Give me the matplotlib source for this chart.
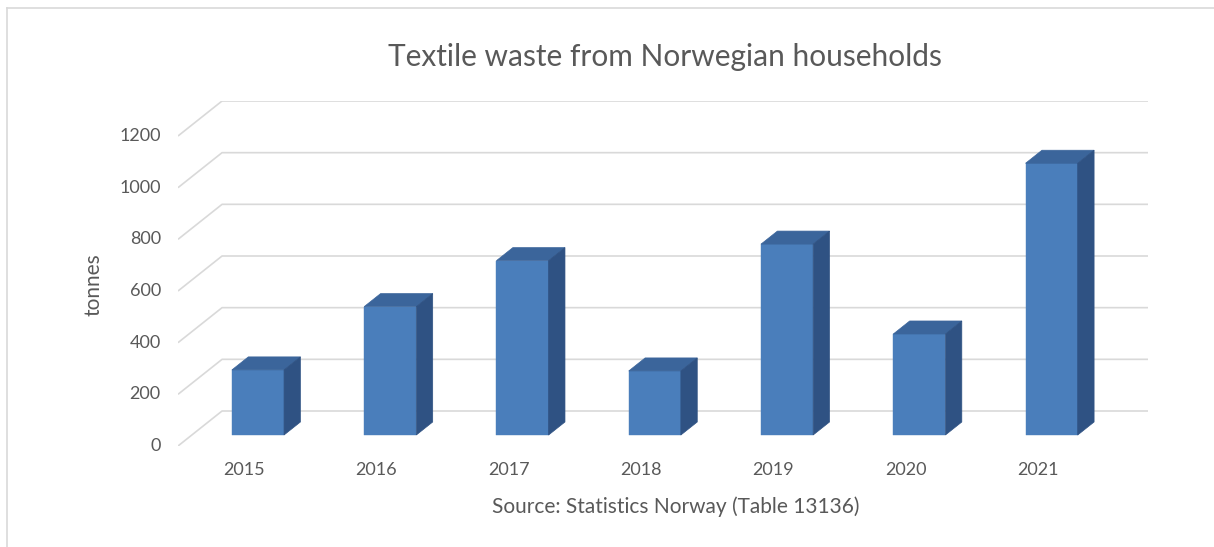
import numpy as np
import matplotlib.pyplot as plt
from matplotlib.patches import Polygon
from matplotlib.lines import Line2D

years = ["2015", "2016", "2017", "2018", "2019", "2020", "2021"]
tonnes = [252, 497, 675, 248, 739, 391, 1052]
y_ticks = [0, 200, 400, 600, 800, 1000, 1200]

W, H = 1214, 547
plt.rcParams['font.family'] = ['Lato', 'DejaVu Sans']
text_col = '#595959'
grid_col = '#d9d9d9'
front_col = '#4a7ebb'
top_col = '#3b659b'
side_col = '#2f5283'

# oblique offset from the front plane to the back wall (data units)
dx, dy = 0.333, 135.5
f0, f1 = 0.314, 0.686   # depth fractions of bar front / back
bw = 0.394

fig = plt.figure(figsize=(W / 100, H / 100), dpi=100)
ax = fig.add_axes([178 / W, (H - 446) / H, (1148 - 178) / W, 345 / H])
ax.set_xlim(-0.5, 6.5 + dx)
ax.set_ylim(0, 1200 + dy)
ax.axis('off')

# back wall gridlines + floor-side diagonals
for v in y_ticks:
    ax.plot([-0.5, -0.5 + dx, 6.5 + dx], [v, v + dy, v + dy],
            color=grid_col, lw=1.2, zorder=1, solid_capstyle='butt')
    ax.text(-0.5 - 0.13, v, str(v), ha='right', va='center',
            fontsize=13, color=text_col)

x = np.arange(len(years))
xf = x + f0 * dx
base = f0 * dy
ax.bar(xf, tonnes, width=bw, bottom=base, color=front_col, zorder=3,
       edgecolor=front_col, lw=0.3)

ddx, ddy = (f1 - f0) * dx, (f1 - f0) * dy
for xi, v in zip(xf, tonnes):
    l, r = xi - bw / 2, xi + bw / 2
    top = base + v
    ax.add_patch(Polygon([(l, top), (r, top), (r + ddx, top + ddy), (l + ddx, top + ddy)],
                         closed=True, fc=top_col, ec=top_col, lw=0.5, zorder=3))
    ax.add_patch(Polygon([(r, base), (r + ddx, base + ddy), (r + ddx, top + ddy), (r, top)],
                         closed=True, fc=side_col, ec=side_col, lw=0.5, zorder=3))

for xi, lab in zip(x, years):
    ax.text(xi, -92, lab, ha='center', va='center', fontsize=13, color=text_col)

fig.text(0.5 * (388 + 942) / W, 1 - 57 / H, "Textile waste from Norwegian households",
         ha='center', va='center', fontsize=21.5, color=text_col)
fig.text(93 / W, 1 - 285 / H, "tonnes", rotation=90, ha='center', va='center',
         fontsize=15, color=text_col)
fig.text((488 + 863) / 2 / W, 1 - 507 / H, "Source: Statistics Norway (Table 13136)",
         ha='center', va='center', fontsize=15, color=text_col)

# chart frame (left and top edges visible)
fig.add_artist(Line2D([7 / W, 7 / W], [0, 1 - 8 / H], color=grid_col, lw=1.2))
fig.add_artist(Line2D([7 / W, 1], [1 - 8 / H, 1 - 8 / H], color=grid_col, lw=1.2))

fig.savefig("out.png", dpi=100)
